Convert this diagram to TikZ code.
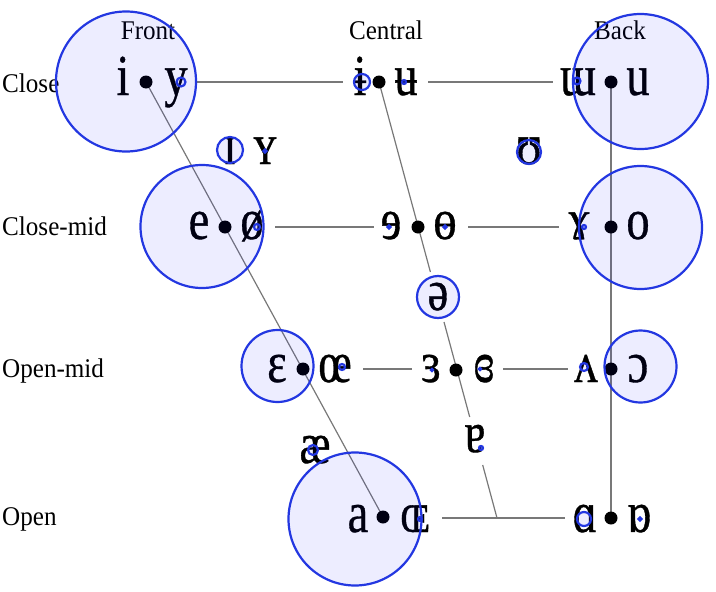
\documentclass[tikz,border=0pt]{standalone}
\usepackage{fontspec}
\setmainfont{Liberation Serif}[FakeStretch=0.93]
\newfontfamily\ipafont{Liberation Serif}[FakeStretch=0.8,FakeBold=0.6]
\definecolor{circblue}{RGB}{35,55,225}
\definecolor{linegray}{RGB}{120,120,120}
\begin{document}
\begin{tikzpicture}[x=1pt,y=-1pt,
  vowel/.style={inner sep=0pt, anchor=base, font=\ipafont\fontsize{58}{60}\selectfont},
  lbl/.style={inner sep=0pt, anchor=base, font=\fontsize{27}{30}\selectfont},
  rowlbl/.style={lbl, anchor=base west},
  vdot/.style={circle, fill=black, inner sep=0pt, minimum size=13pt},
  freq/.style={draw=circblue, line width=2.2pt, fill=blue, fill opacity=0.07},
  chartline/.style={draw=linegray, line width=1.2pt}]
\useasboundingbox (0,0) rectangle (716,592);

% headers
\node[lbl] (hF) at (148,39) {Front};
\node[lbl] (hC) at (386,39) {Central};
\node[lbl] (hB) at (620,39) {Back};
\node[rowlbl] (rC) at (2,92) {Close};
\node[rowlbl] (rCM) at (2,235) {Close-mid};
\node[rowlbl] (rOM) at (2,377) {Open-mid};
\node[rowlbl] (rO) at (2,525) {Open};

% chart line coordinates
\coordinate (cf1) at (146,82);
\coordinate (cf4) at (383,517);
\coordinate (cc1) at (379,82);
\coordinate (cc2) at (430.4,272);
\coordinate (cc3) at (444,322);
\coordinate (cc4) at (469.7,417);
\coordinate (cc5) at (482.7,465);
\coordinate (cc6) at (497,518);
\coordinate (cb1) at (611,82);
\coordinate (cb4) at (611,518);
\coordinate (h1a) at (197,82);  \coordinate (h1b) at (343,82);
\coordinate (h1c) at (428,82);  \coordinate (h1d) at (553,82);
\coordinate (h2a) at (275,227); \coordinate (h2b) at (374,227);
\coordinate (h2c) at (468,227); \coordinate (h2d) at (559,227);
\coordinate (h3a) at (363,369); \coordinate (h3b) at (412,369);
\coordinate (h3c) at (503,369); \coordinate (h3d) at (568,369);
\coordinate (h4a) at (442,518); \coordinate (h4b) at (565,518);

\draw[chartline] (cf1) -- (cf4);
\draw[chartline] (cc1) -- (cc2);
\draw[chartline] (cc3) -- (cc4);
\draw[chartline] (cc5) -- (cc6);
\draw[chartline] (cb1) -- (cb4);
\draw[chartline] (h1a) -- (h1b);
\draw[chartline] (h1c) -- (h1d);
\draw[chartline] (h2a) -- (h2b);
\draw[chartline] (h2c) -- (h2d);
\draw[chartline] (h3a) -- (h3b);
\draw[chartline] (h3c) -- (h3d);
\draw[chartline] (h4a) -- (h4b);

% dots
\node[vdot] (d1f) at (146,82) {};
\node[vdot] (d1c) at (379,82) {};
\node[vdot] (d1b) at (611,82) {};
\node[vdot] (d2f) at (225,227) {};
\node[vdot] (d2c) at (418,227) {};
\node[vdot] (d2b) at (611,227) {};
\node[vdot] (d3f) at (303,369) {};
\node[vdot] (d3c) at (456,370) {};
\node[vdot] (d3b) at (611,369) {};
\node[vdot] (d4f) at (383,517) {};
\node[vdot] (d4b) at (611,518) {};

% vowels
\node[vowel] (vi) at (123,95) {i};
\node[vowel] (vy) at (176,95) {y};
\node[vowel] (vbi) at (360,95) {ɨ};
\node[vowel] (vbu) at (406,95) {ʉ};
\node[vowel] (vmu) at (578,95) {ɯ};
\node[vowel] (vu) at (638,95) {u};
\node[vowel] (vsi) at (230,164) {ɪ};
\node[vowel] (vsy) at (265,164) {ʏ};
\node[vowel] (vsu) at (529,164) {ʊ};
\node[vowel] (ve) at (199,239) {e};
\node[vowel] (voe) at (252,239) {ø};
\node[vowel] (vre) at (391,239) {ɘ};
\node[vowel] (vbo) at (445,239) {ɵ};
\node[vowel] (vrg) at (579,239) {ɤ};
\node[vowel] (vo) at (638,239) {o};
\node[vowel] (vschwa) at (438,310) {ə};
\node[vowel] (veps) at (277,382) {ɛ};
\node[vowel] (voel) at (335,382) {œ};
\node[vowel] (vreps) at (431,382) {ɜ};
\node[vowel] (vcreps) at (484,382) {ɞ};
\node[vowel] (vturnv) at (586,382) {ʌ};
\node[vowel] (vopo) at (638,382) {ɔ};
\node[vowel] (vae) at (315,463) {æ};
\node[vowel] (vturna) at (475,452) {ɐ};
\node[vowel] (va) at (358,532) {a};
\node[vowel] (vsoe) at (415,532) {ɶ};
\node[vowel] (valpha) at (585,532) {ɑ};
\node[vowel] (vtalpha) at (639,532) {ɒ};

% frequency circles
\foreach \cx/\cy/\r in {126/81.5/70, 181/82/4.5, 362/82/8, 404/82/2, 577/81/3.5, 640.5/81.5/67.5,
  230/150/13, 265/151/1.5, 529/152/12,
  202/226.5/61.5, 257/227/3, 389/227/1.5, 445/227/1.5, 584/227/2, 640.5/227.5/61.5,
  438/297/21,
  277.5/366/36, 342/367/3, 432/370/1, 480/369/1, 584/367/4, 640.5/366.5/36,
  313/450/5, 481/448/2,
  355/519/66.5, 420/519/2, 584/519/7, 640/519/1.5}
  \draw[freq] (\cx,\cy) circle[radius=\r];
\end{tikzpicture}
\end{document}
